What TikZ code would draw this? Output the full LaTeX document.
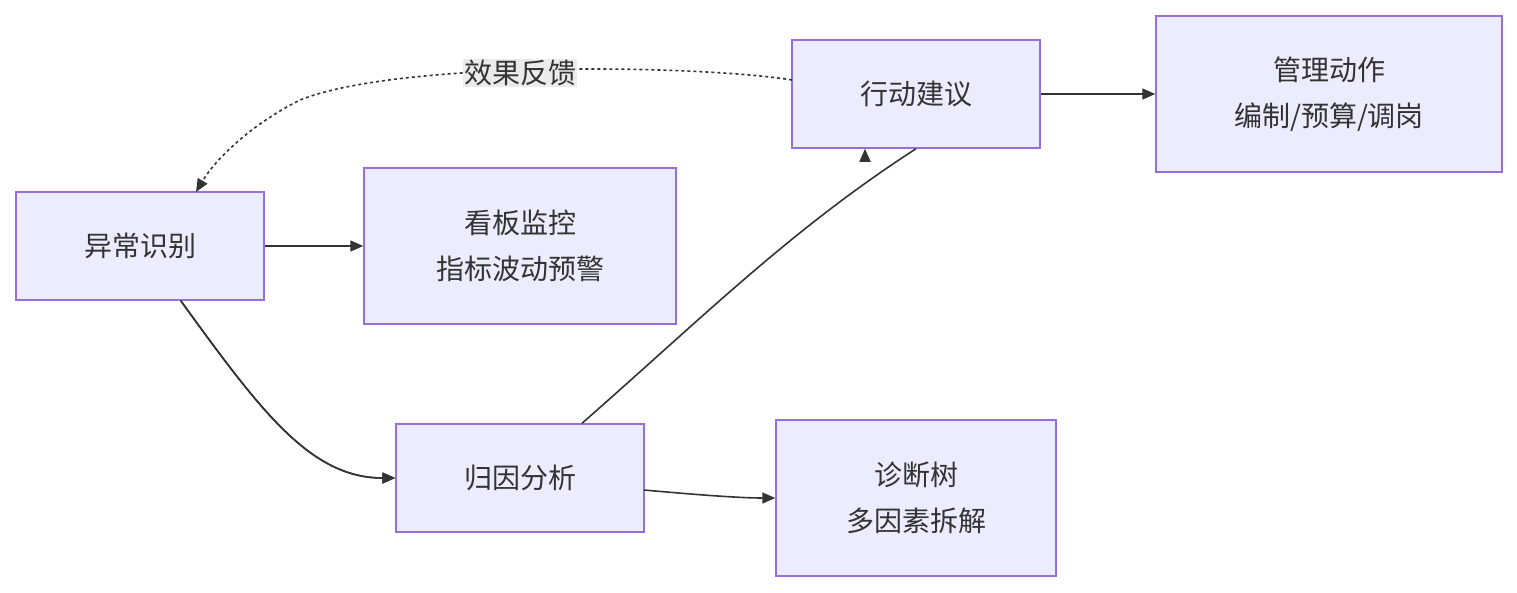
\documentclass[tikz,border=0pt]{standalone}
\usepackage{fontspec}
\setmainfont{Noto Sans CJK SC}
\usetikzlibrary{arrows.meta}
\definecolor{boxfill}{HTML}{ECECFF}
\definecolor{boxline}{HTML}{9370DB}
\definecolor{txt}{HTML}{333333}
\tikzset{
  box/.style={draw=boxline,fill=boxfill,line width=1.5pt,text=txt,align=center,font=\fontsize{28}{46}\selectfont,inner sep=0pt},
  conn/.style={draw=txt,line width=1.6pt,-{Triangle[length=13pt,width=11pt]}},
}
\begin{document}
\begin{tikzpicture}[x=1pt,y=-1pt]
\useasboundingbox (0,0) rectangle (1517,592);
\node[box,minimum width=248,minimum height=108] (a) at (140,246) {异常识别};
\node[box,minimum width=312,minimum height=156] (b) at (520,246) {看板监控\\指标波动预警};
\node[box,minimum width=248,minimum height=108] (c) at (520,478) {归因分析};
\node[box,minimum width=280,minimum height=156] (d) at (916,498) {诊断树\\多因素拆解};
\node[box,minimum width=248,minimum height=108] (e) at (916,94) {行动建议};
\node[box,minimum width=346,minimum height=156] (f) at (1329,94) {管理动作\\编制/预算/调岗};
\draw[conn] (a.east) -- (b.west);
\draw[conn] (a.south east) ++(-84,0) coordinate (a1)
  (a1) .. controls (260,410) and (310,478) .. (c.west);
\draw[conn] (c.north) ++(62,0) coordinate (c1)
  (c1) .. controls (700,320) and (790,230) .. (e.south) ++(-51,0);
\coordinate (e1) at (865,148);
\draw[conn] (a1) .. controls (260,410) and (310,478) .. (c.west);
\draw[conn] (644,490) .. controls (700,495) and (740,498) .. (d.west);
\draw[conn] (e.east) -- (f.west);
\coordinate (e2) at (792,80);
\coordinate (a2) at (196,192);
\draw[draw=txt,line width=1.6pt,dashed,dash pattern=on 3pt off 3pt,-{Triangle[length=13pt,width=11pt]}]
  (e2) .. controls (700,65) and (400,60) .. (300,100) .. controls (250,125) and (215,160) .. (a2);
\node[fill=black!8,text=txt,font=\fontsize{28}{34}\selectfont,inner sep=1pt] (l) at (520,73) {效果反馈};
\end{tikzpicture}
\end{document}
